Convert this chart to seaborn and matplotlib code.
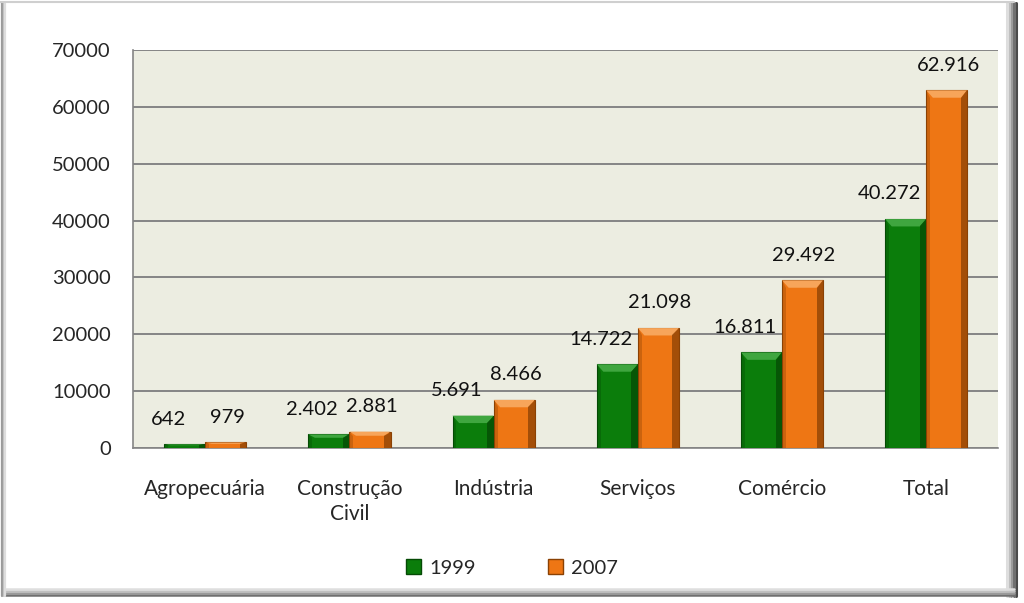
import numpy as np
import pandas as pd
import matplotlib
matplotlib.use('Agg')
import matplotlib.pyplot as plt
import seaborn as sns
from matplotlib.patches import Rectangle, Polygon
from matplotlib.lines import Line2D

# data
categories = ['Agropecuária', 'Construção\nCivil', 'Indústria', 'Serviços', 'Comércio', 'Total']
years = ['1999', '2007']
values_1999 = [642, 2402, 5691, 14722, 16811, 40272]
values_2007 = [979, 2881, 8466, 21098, 29492, 62916]
labels_1999 = ['642', '2.402', '5.691', '14.722', '16.811', '40.272']
labels_2007 = ['979', '2.881', '8.466', '21.098', '29.492', '62.916']

colors = {'1999': '#0b7d0b', '2007': '#ee7614'}
dark = {'1999': '#054a05', '2007': '#8a4104'}
light = {'1999': '#3fa63f', '2007': '#f7a55a'}
label_shift = {'1999': -12, '2007': 1}   # Excel-ish placement of the value labels

df = pd.DataFrame({
    'categoria': categories * 2,
    'ano': [years[0]] * len(categories) + [years[1]] * len(categories),
    'valor': values_1999 + values_2007,
})

sns.set_style('white')
plt.rcParams['font.family'] = ['Lato', 'DejaVu Sans']

fig = plt.figure(figsize=(10.24, 6.03), dpi=100)
ax = fig.add_axes([0.130, 0.257, 0.845, 0.660])
ax.set_facecolor('#ecede1')

sns.barplot(data=df, x='categoria', y='valor', hue='ano', palette=colors,
            width=0.57, saturation=1, ax=ax, legend=False, zorder=3)

# bevel look on every bar
for cont, yr, labs in zip(ax.containers, years, [labels_1999, labels_2007]):
    for bar, lab in zip(cont, labs):
        x0, w, h = bar.get_x(), bar.get_width(), bar.get_height()
        bar.set_edgecolor(dark[yr])
        bar.set_linewidth(0.8)
        b = w * 0.16
        by = min(h * 0.25, 1300)
        if h > 600:
            ax.add_patch(Polygon([[x0, h], [x0 + w, h], [x0 + w - b, h - by], [x0 + b, h - by]],
                                 closed=True, facecolor=light[yr], edgecolor='none', zorder=4))
            ax.add_patch(Polygon([[x0 + w, h], [x0 + w, 0], [x0 + w - b, 0], [x0 + w - b, h - by]],
                                 closed=True, facecolor=dark[yr], edgecolor='none', alpha=0.75, zorder=4))
            ax.add_patch(Polygon([[x0, h], [x0, 0], [x0 + b * 0.6, 0], [x0 + b * 0.6, h - by]],
                                 closed=True, facecolor=dark[yr], edgecolor='none', alpha=0.35, zorder=4))
        ax.annotate(lab, (x0 + w / 2, h), xytext=(label_shift[yr], 12), textcoords='offset points',
                    ha='center', va='bottom', fontsize=14.5, color='#111111', zorder=5)

ax.set_ylim(0, 70000)
ax.set_xlim(-0.5, len(categories) - 0.5)
ax.set_yticks(np.arange(0, 70001, 10000))
ax.set_yticklabels([str(v) for v in range(0, 70001, 10000)], fontsize=14.5)
ax.set_xticks(range(len(categories)))
ax.set_xticklabels(categories, fontsize=15, linespacing=1.35)
ax.yaxis.grid(True, color='#858585', linewidth=1.4, zorder=0)
ax.set_axisbelow(True)
ax.set_xlabel('')
ax.set_ylabel('')
ax.tick_params(axis='x', which='major', length=0, pad=22)
ax.set_xticks(np.arange(-0.5, len(categories)), minor=True)
ax.tick_params(axis='x', which='minor', length=8, width=1.2, color='#858585', direction='out')
ax.tick_params(axis='y', length=8, width=1.2, color='#858585', direction='out', pad=8)
for s in ['top', 'right']:
    ax.spines[s].set_visible(False)
for s in ['left', 'bottom']:
    ax.spines[s].set_color('#858585')
    ax.spines[s].set_linewidth(1.2)

handles = [Rectangle((0, 0), 1, 1, facecolor=colors[y], edgecolor=dark[y], linewidth=1) for y in years]
fig.legend(handles, years, loc='center', bbox_to_anchor=(0.5, 0.058), ncol=2, frameon=False,
           fontsize=14.5, handlelength=0.75, handleheight=0.75, handletextpad=0.4, columnspacing=3.6)

# frame with shadow around the picture
shades = ['#4a4a4a', '#707070', '#9a9a9a', '#c0c0c0', '#dedede']
for i, c in enumerate(shades):
    d = i * 0.0022
    fig.add_artist(Line2D([0.992 - d, 0.992 - d], [0.012, 0.995],
                          transform=fig.transFigure, color=c, linewidth=2.2))
for i, c in enumerate(shades[1:]):
    d = i * 0.0035
    fig.add_artist(Line2D([0.005, 0.99], [0.013 + d, 0.013 + d],
                          transform=fig.transFigure, color=c, linewidth=1.8))
for i, c in enumerate(['#9a9a9a', '#c0c0c0', '#dddddd']):
    d = i * 0.0015
    fig.add_artist(Line2D([0.002 + d, 0.002 + d], [0.012, 0.995],
                          transform=fig.transFigure, color=c, linewidth=1.6))
fig.add_artist(Line2D([0.0, 0.99], [0.997, 0.997], transform=fig.transFigure,
                      color='#cfcfcf', linewidth=1.5))

fig.savefig('out.png', dpi=100)
